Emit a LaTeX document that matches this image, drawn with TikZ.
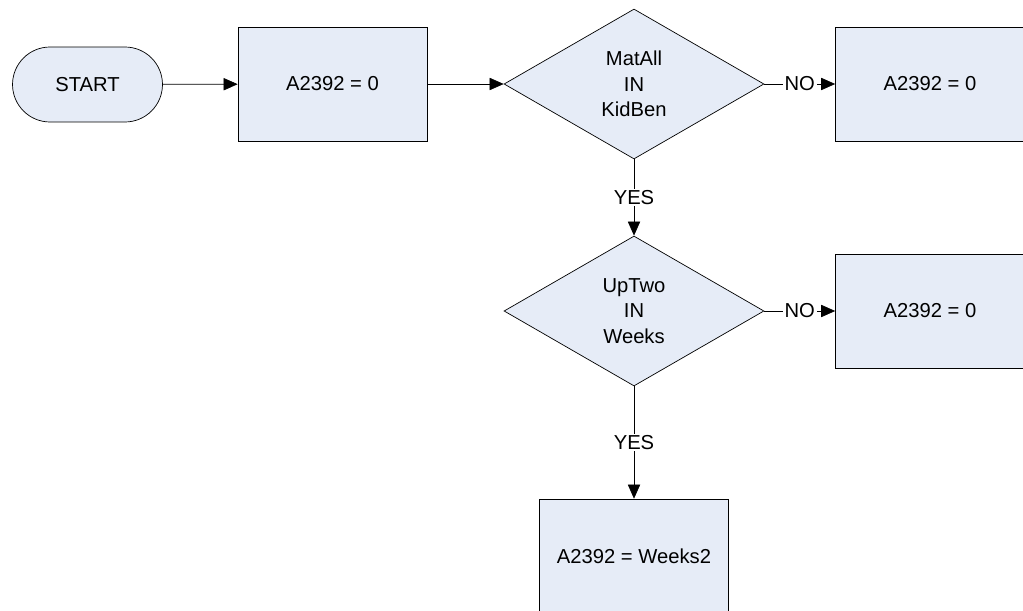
\documentclass[tikz,border=0pt]{standalone}
\usepackage{fontspec}
\setmainfont{Liberation Sans}
\usepackage{xcolor}
\usetikzlibrary{shapes,arrows.meta,positioning}
\definecolor{boxfill}{RGB}{230,236,247}

\begin{document}
\begin{tikzpicture}[x=0.02cm,y=-0.02cm,
    font=\fontsize{11.5}{14.5}\selectfont,
    startbox/.style={draw, fill=boxfill, rounded corners=0.75cm, minimum width=3cm, minimum height=1.5cm},
    procbox/.style={draw, fill=boxfill, minimum width=3.78cm, minimum height=2.28cm},
    decision/.style={diamond, draw, fill=boxfill, minimum width=5.2cm, minimum height=3cm, inner sep=0pt, align=center},
    flow/.style={-{Triangle[length=8pt,width=7pt]}},
    answer/.style={fill=white, inner sep=1pt}]
    \useasboundingbox (0,0) rectangle (1023,611);
    \clip (0,0) rectangle (1023,611);

    % Nodes
    \node[startbox] (start) at (87.5,84.5) {START};
    \node[procbox] (init) at (332.5,84) {A2392 = 0};
    \node[decision] (kidben) at (634,84) {MatAll\\IN\\KidBen};
    \node[procbox] (nokid) at (930,84) {A2392 = 0};
    \node[decision] (weeks) at (634,311) {UpTwo\\IN\\Weeks};
    \node[procbox] (noweeks) at (930,311) {A2392 = 0};
    \node[procbox] (result) at (634,556) {A2392 = Weeks2};

    % Connectors
    \draw[flow] (start) -- (init);
    \draw[flow] (init) -- (kidben);
    \draw[flow] (kidben) -- node[answer] {NO} (nokid);
    \draw[flow] (kidben) -- node[answer] {YES} (weeks);
    \draw[flow] (weeks) -- node[answer] {NO} (noweeks);
    \draw[flow] (weeks) -- node[answer] {YES} (result);
\end{tikzpicture}
\end{document}
